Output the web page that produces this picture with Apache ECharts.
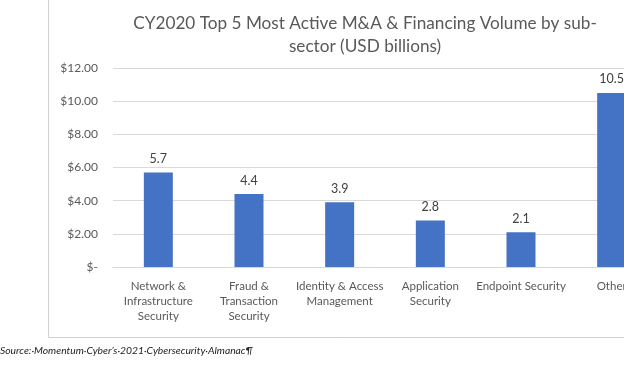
<!DOCTYPE html>
<html>
<head>
<meta charset="utf-8">
<script src="https://cdn.jsdelivr.net/npm/echarts@6/dist/echarts.min.js"></script>
<style>html,body{margin:0;padding:0;background:#fff}#c{width:624px;height:368px}</style>
</head>
<body>
<div id="c"></div>
<script>
var titleText = 'CY2020 Top 5 Most Active M&A & Financing Volume by sub-\nsector (USD billions)';
var categories = ['Network &\nInfrastructure\nSecurity', 'Fraud &\nTransaction\nSecurity', 'Identity & Access\nManagement', 'Application\nSecurity', 'Endpoint Security', 'Other'];
var values = [5.7, 4.4, 3.9, 2.8, 2.1, 10.5];
var yTicks = [0, 2, 4, 6, 8, 10, 12];
var sourceText = 'Source:\u00b7Momentum\u00b7Cyber\u2019s\u00b72021\u00b7Cybersecurity\u00b7Almanac\u00b6';

var FONT = 'Lato';
var chart = echarts.init(document.getElementById('c'), null, {renderer: 'canvas'});
chart.setOption({
  animation: false,
  backgroundColor: '#fff',
  title: {
    text: titleText,
    left: 360, top: 7, textAlign: 'center',
    textStyle: {fontFamily: FONT, fontSize: 17.2, fontWeight: 'normal', color: '#595959', lineHeight: 23}
  },
  grid: {left: 113, top: 68, width: 544, height: 199, containLabel: false, outerBoundsMode: 'none'},
  xAxis: {
    type: 'category',
    data: categories,
    axisLine: {show: true, lineStyle: {color: '#d9d9d9'}},
    axisTick: {show: false},
    axisLabel: {interval: 0, margin: 12, fontFamily: FONT, fontSize: 11.5, color: '#595959', lineHeight: 15}
  },
  yAxis: {
    type: 'value',
    min: yTicks[0], max: yTicks[yTicks.length - 1], interval: 2,
    axisLine: {show: false},
    axisTick: {show: false},
    splitLine: {lineStyle: {color: '#d9d9d9'}},
    axisLabel: {
      margin: 15, fontFamily: FONT, fontSize: 12, color: '#595959',
      formatter: function (v) { return v === 0 ? '$-' : '$' + v.toFixed(2); }
    }
  },
  series: [{
    type: 'bar',
    data: values,
    barWidth: 29,
    itemStyle: {color: '#4472C4'},
    label: {show: true, position: 'top', distance: 7, fontFamily: FONT, fontSize: 12.5, color: '#404040',
      formatter: function (p) { return p.value.toFixed(1); }}
  }],
  graphic: [
    {type: 'polyline', shape: {points: [[48.5, 0], [48.5, 337.5], [624, 337.5]]}, style: {stroke: '#d0d0d0', lineWidth: 1, fill: null}},
    {type: 'text', left: 0, top: 346, style: {text: sourceText, fontFamily: FONT, fontStyle: 'italic', fontSize: 10.3, fill: '#222'}}
  ]
});
</script>
</body>
</html>
